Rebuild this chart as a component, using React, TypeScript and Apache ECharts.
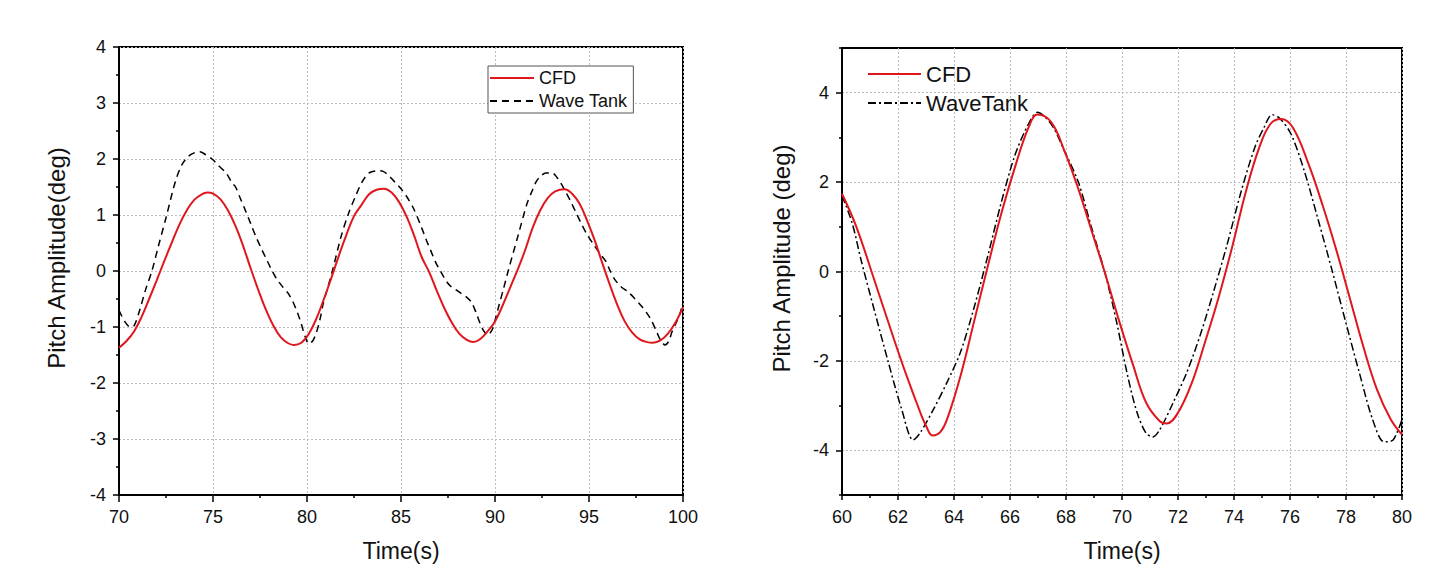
import React, { useEffect, useRef } from 'react';
import * as echarts from 'echarts';

// ---- Left panel (Time 70-100 s) ----
const cfdLeftT = [70.0, 70.4, 70.8, 71.2, 71.6, 72.0, 72.4, 72.8, 73.2, 73.6, 74.0, 74.4, 74.7, 75.0, 75.4, 75.8, 76.2, 76.6, 77.0, 77.4, 77.8, 78.2, 78.6, 79.0, 79.3, 79.7, 80.1, 80.5, 80.9, 81.3, 81.7, 82.1, 82.5, 82.9, 83.3, 83.7, 84.1, 84.5, 84.9, 85.3, 85.7, 86.1, 86.5, 86.9, 87.3, 87.7, 88.1, 88.5, 88.85, 89.2, 89.6, 90.0, 90.4, 90.8, 91.2, 91.6, 92.0, 92.4, 92.8, 93.2, 93.7, 94.1, 94.5, 94.9, 95.3, 95.7, 96.1, 96.5, 96.9, 97.3, 97.7, 98.1, 98.4, 98.8, 99.2, 99.6, 100];
const cfdLeftV = [-1.37, -1.25, -1.08, -0.82, -0.5, -0.17, 0.17, 0.5, 0.82, 1.08, 1.27, 1.37, 1.40, 1.38, 1.28, 1.08, 0.8, 0.45, 0.05, -0.33, -0.68, -0.97, -1.18, -1.29, -1.32, -1.28, -1.12, -0.85, -0.5, -0.12, 0.28, 0.65, 0.98, 1.18, 1.37, 1.45, 1.47, 1.40, 1.23, 0.97, 0.63, 0.25, -0.02, -0.35, -0.66, -0.92, -1.12, -1.23, -1.27, -1.22, -1.08, -0.9, -0.62, -0.3, 0.02, 0.37, 0.77, 1.08, 1.3, 1.42, 1.46, 1.38, 1.2, 0.9, 0.55, 0.15, -0.24, -0.6, -0.9, -1.1, -1.22, -1.27, -1.28, -1.24, -1.12, -0.92, -0.65];

const waveLeftT = [70, 70.3, 70.6, 70.8, 71.1, 71.4, 71.75, 72.1, 72.5, 73.0, 73.35, 73.7, 74.0, 74.3, 74.6, 74.95, 75.3, 75.7, 76.0, 76.2, 76.45, 76.7, 77.0, 77.3, 77.6, 77.9, 78.15, 78.4, 78.7, 79.0, 79.25, 79.5, 79.7, 79.9, 80.1, 80.3, 80.5, 80.7, 80.85, 81.1, 81.35, 81.8, 82.2, 82.6, 82.85, 83.1, 83.3, 83.55, 83.8, 84.05, 84.3, 84.5, 84.75, 85.0, 85.3, 85.65, 86.1, 86.35, 86.6, 86.85, 87.1, 87.35, 87.6, 87.9, 88.2, 88.5, 88.75, 89.0, 89.2, 89.4, 89.6, 89.85, 90.05, 90.2, 90.45, 90.7, 91.2, 91.7, 92.0, 92.2, 92.45, 92.7, 93.05, 93.3, 93.5, 93.75, 94.0, 94.3, 94.6, 94.9, 95.25, 95.6, 95.9, 96.1, 96.35, 96.7, 97.1, 97.45, 97.8, 98.05, 98.3, 98.55, 98.8, 99.05, 99.25, 99.4, 99.6, 99.8, 100];
const waveLeftV = [-0.7, -0.9, -1.0, -0.98, -0.7, -0.35, 0, 0.45, 0.95, 1.6, 1.9, 2.05, 2.11, 2.13, 2.08, 2.0, 1.88, 1.75, 1.58, 1.5, 1.3, 1.1, 0.85, 0.6, 0.38, 0.17, 0.0, -0.15, -0.28, -0.4, -0.55, -0.75, -0.95, -1.17, -1.3, -1.25, -1.1, -0.85, -0.6, -0.3, 0, 0.6, 1.02, 1.35, 1.54, 1.68, 1.75, 1.78, 1.79, 1.78, 1.72, 1.65, 1.56, 1.47, 1.33, 1.13, 0.77, 0.55, 0.35, 0.15, 0, -0.15, -0.26, -0.33, -0.4, -0.47, -0.56, -0.75, -0.93, -1.07, -1.14, -1.05, -0.82, -0.63, -0.32, 0, 0.6, 1.2, 1.45, 1.6, 1.7, 1.75, 1.75, 1.67, 1.57, 1.42, 1.26, 1.05, 0.84, 0.65, 0.47, 0.3, 0.17, 0.02, -0.14, -0.28, -0.38, -0.5, -0.63, -0.74, -0.87, -1.05, -1.23, -1.32, -1.25, -1.1, -0.95, -0.8, -0.57];

// ---- Right panel (Time 60-80 s) ----
const cfdRightT = [60, 60.5, 61.16, 61.8, 62.3, 62.8, 63.0, 63.23, 63.5, 63.75, 64.24, 64.72, 65.2, 65.7, 66.2, 66.66, 66.98, 67.47, 67.95, 68.44, 68.9, 69.4, 69.9, 70.4, 70.86, 71.35, 71.6, 72.0, 72.5, 72.97, 73.45, 73.94, 74.42, 74.9, 75.3, 75.68, 76.1, 76.67, 77.17, 77.65, 78.13, 78.6, 79.1, 79.6, 80];
const cfdRightV = [1.74, 1.02, -0.2, -1.41, -2.32, -3.16, -3.45, -3.67, -3.6, -3.31, -2.32, -1.11, 0.1, 1.32, 2.38, 3.22, 3.51, 3.34, 2.69, 1.85, 0.94, -0.05, -1.11, -2.1, -2.93, -3.35, -3.4, -3.16, -2.48, -1.57, -0.58, 0.56, 1.78, 2.77, 3.3, 3.41, 3.22, 2.39, 1.47, 0.49, -0.58, -1.64, -2.63, -3.31, -3.65];

const waveRightT = [60, 60.36, 60.68, 61.16, 61.65, 62.13, 62.54, 62.78, 63.27, 63.75, 64.24, 64.72, 65.2, 65.69, 66.18, 66.66, 66.98, 67.47, 67.95, 68.44, 68.9, 69.4, 69.8, 70.2, 70.54, 70.86, 71.1, 71.35, 71.83, 72.32, 72.8, 73.28, 73.77, 74.25, 74.74, 75.07, 75.36, 75.63, 76.04, 76.52, 77.0, 77.5, 77.98, 78.47, 78.95, 79.36, 79.68, 80];
const waveRightV = [1.7, 1.09, 0.26, -0.88, -2.02, -3.08, -3.77, -3.62, -3.08, -2.48, -1.79, -0.8, 0.33, 1.55, 2.61, 3.3, 3.56, 3.3, 2.69, 2.0, 1.01, -0.05, -1.11, -2.33, -3.16, -3.62, -3.7, -3.54, -2.93, -2.25, -1.41, -0.43, 0.64, 1.78, 2.77, 3.22, 3.51, 3.43, 3.07, 2.23, 1.17, 0.03, -1.11, -2.25, -3.31, -3.81, -3.77, -3.31];

const rightYLabels = [-4, -2, 0, 2, 4];
const rightYMinor = [-5, -3, -1, 1, 3, 5];

const zip = (t: number[], v: number[]) => t.map((x, i) => [x, v[i]]);

const FONT = 'Liberation Sans, Arial, sans-serif';
const RED = '#e0161d';

export default function App() {
  const ref = useRef<HTMLDivElement>(null);
  useEffect(() => {
    if (!ref.current) return;
    const chart = echarts.init(ref.current, undefined, { renderer: 'svg' });
    const axisLine = { show: true, onZero: false, lineStyle: { color: '#000', width: 2 } };
    const splitLine = { show: true, lineStyle: { color: '#bdbdbd', width: 1, type: [2, 2] } };
    const tick = { show: true, inside: false, length: 6, lineStyle: { color: '#000', width: 1.5 } };
    const minor = { show: true, splitNumber: 2, length: 3, lineStyle: { color: '#000', width: 1.5 } };
    const label = { color: '#111', fontSize: 18, fontFamily: FONT, margin: 13 };
    const nameStyle = { color: '#111', fontSize: 23, fontFamily: FONT };
    const yNameStyle = { ...nameStyle, fontSize: 24, padding: [0, 0, 0, 26] };
    const hideSymbol = { opacity: 0, borderWidth: 0, color: 'rgba(0,0,0,0)' };

    chart.setOption({
      animation: false,
      backgroundColor: '#fff',
      grid: [
        { left: 119, top: 47, width: 564, height: 451, show: true, borderColor: '#000', borderWidth: 2, backgroundColor: 'transparent' },
        { left: 842, top: 48, width: 560, height: 451, show: true, borderColor: '#000', borderWidth: 2, backgroundColor: 'transparent' },
      ],
      xAxis: [
        {
          type: 'value', gridIndex: 0, min: 70, max: 100, interval: 5,
          axisLine, axisTick: { ...tick, length: 7 }, minorTick: minor, splitLine, axisLabel: label,
          name: 'Time(s)', nameLocation: 'middle', nameGap: 44, nameTextStyle: nameStyle,
        },
        {
          type: 'value', gridIndex: 1, min: 60, max: 80, interval: 2,
          axisLine, axisTick: { ...tick, length: 5 }, minorTick: minor, splitLine, axisLabel: label,
          name: 'Time(s)', nameLocation: 'middle', nameGap: 44, nameTextStyle: nameStyle,
        },
      ],
      yAxis: [
        {
          type: 'value', gridIndex: 0, min: -4, max: 4, interval: 1,
          axisLine, axisTick: tick, minorTick: minor, splitLine, axisLabel: label,
          name: 'Pitch Amplitude(deg)', nameLocation: 'middle', nameGap: 51, nameTextStyle: yNameStyle,
        },
        {
          type: 'value', gridIndex: 1, min: -5, max: 5, interval: 1,
          axisLine,
          axisTick: { ...tick, customValues: rightYLabels },
          splitLine,
          axisLabel: { ...label, customValues: rightYLabels },
          name: 'Pitch Amplitude (deg)', nameLocation: 'middle', nameGap: 49, nameTextStyle: yNameStyle,
        },
        {
          type: 'value', gridIndex: 1, min: -5, max: 5, interval: 1, position: 'left', offset: 0,
          axisLine: { show: false },
          axisTick: { show: true, inside: false, length: 3, lineStyle: { color: '#000', width: 1.5 }, customValues: rightYMinor },
          axisLabel: { show: false },
          splitLine: { show: false },
        },
      ],
      legend: [
        {
          orient: 'vertical', left: 488, top: 66, data: ['CFD', 'Wave Tank'],
          borderColor: '#555', borderWidth: 1, padding: [3, 6, 3, 1], itemGap: 5,
          itemWidth: 44, itemHeight: 14,
          itemStyle: hideSymbol,
          textStyle: { color: '#111', fontSize: 18, fontFamily: FONT },
          backgroundColor: '#fff',
        },
        {
          orient: 'vertical', left: 865, top: 61, data: ['CFD', 'WaveTank'],
          padding: 2, itemGap: 7, itemWidth: 53, itemHeight: 16,
          itemStyle: hideSymbol,
          textStyle: { color: '#111', fontSize: 22, fontFamily: FONT },
        },
      ],
      series: [
        {
          name: 'CFD', type: 'line', xAxisIndex: 0, yAxisIndex: 0, data: zip(cfdLeftT, cfdLeftV),
          smooth: 0.4, symbol: 'none', color: RED, lineStyle: { color: RED, width: 2 }, z: 3,
        },
        {
          name: 'Wave Tank', type: 'line', xAxisIndex: 0, yAxisIndex: 0, data: zip(waveLeftT, waveLeftV),
          smooth: 0.3, symbol: 'none', color: '#000', lineStyle: { color: '#000', width: 1.5, type: [7, 5] }, z: 2,
        },
        {
          name: 'CFD', type: 'line', xAxisIndex: 1, yAxisIndex: 1, data: zip(cfdRightT, cfdRightV),
          smooth: 0.4, symbol: 'none', color: RED, lineStyle: { color: RED, width: 2 }, z: 3,
        },
        {
          name: 'WaveTank', type: 'line', xAxisIndex: 1, yAxisIndex: 1, data: zip(waveRightT, waveRightV),
          smooth: 0.3, symbol: 'none', color: '#000', lineStyle: { color: '#000', width: 1.5, type: [8, 3, 2, 3] }, z: 2,
        },
      ],
    });
    return () => chart.dispose();
  }, []);
  return <div ref={ref} style={{ position: 'absolute', left: 0, top: 0, width: 1430, height: 567 }} />;
}
